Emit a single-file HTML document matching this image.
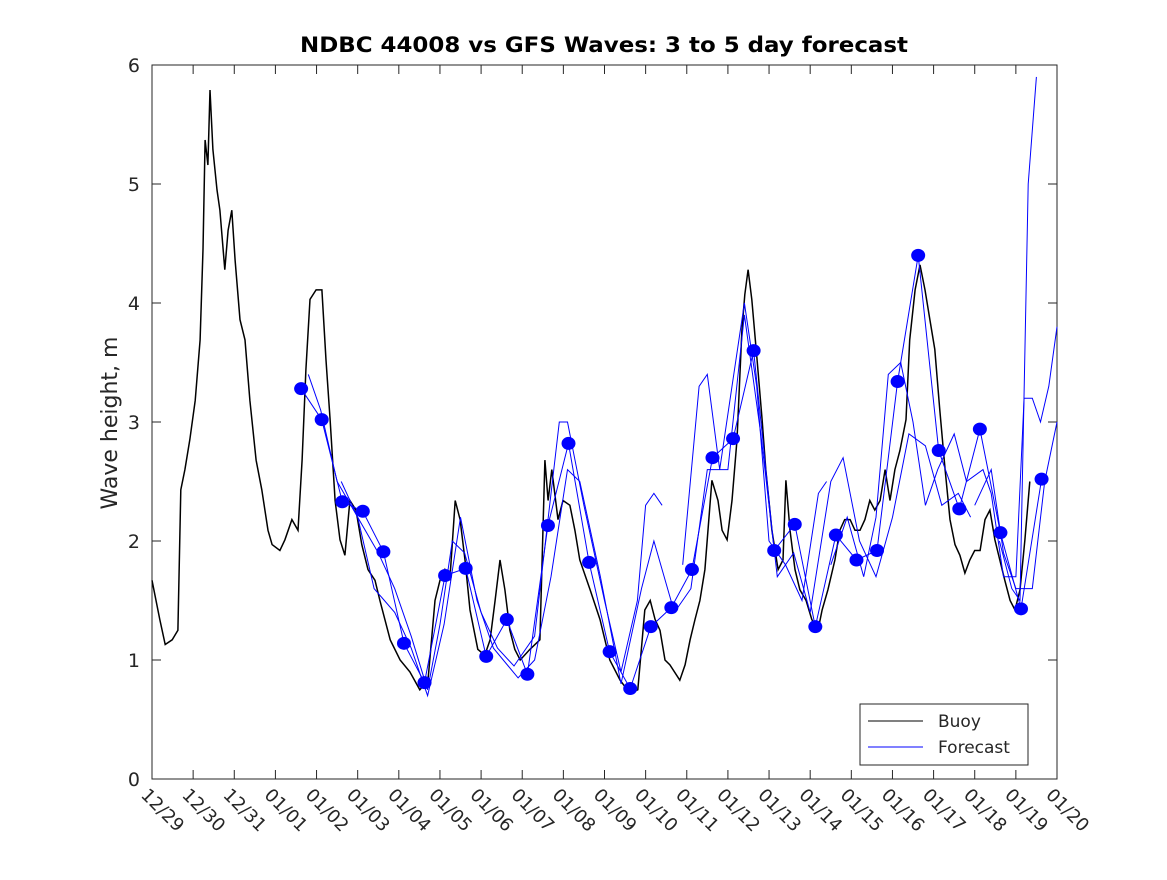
<!DOCTYPE html>
<html><head><meta charset="utf-8"><style>
body{margin:0;background:#fff;}
svg text{font-family:"DejaVu Sans","Liberation Sans",sans-serif;fill:#262626;}
</style></head><body>
<svg id="chart" width="1167" height="875" xmlns="http://www.w3.org/2000/svg">
<rect width="1167" height="875" fill="#fff"/>
<text x="604" y="52" text-anchor="middle" font-size="21.5" font-weight="bold" textLength="608" lengthAdjust="spacingAndGlyphs" style="fill:#000">NDBC 44008 vs GFS Waves: 3 to 5 day forecast</text>
<text transform="translate(117,423) rotate(-90)" text-anchor="middle" font-size="22">Wave height, m</text>
<g id="axes"></g>
<g id="marks"></g>
<g>
<rect x="860" y="704" width="168" height="61" fill="#fff" stroke="#262626" stroke-width="1"/>
<line x1="868" y1="721" x2="923" y2="721" stroke="#000" stroke-width="1"/>
<text x="938" y="727" font-size="17">Buoy</text>
<line x1="868" y1="747" x2="923" y2="747" stroke="#00f" stroke-width="1"/>
<text x="938" y="753" font-size="17">Forecast</text>
</g>
</svg>
<script>
const xTickLabels=["12/29","12/30","12/31","01/01","01/02","01/03","01/04","01/05","01/06","01/07","01/08","01/09","01/10","01/11","01/12","01/13","01/14","01/15","01/16","01/17","01/18","01/19","01/20"];
const yTicks=[0,1,2,3,4,5,6];
const buoyDays=[0,0.19,0.32,0.49,0.63,0.70,0.80,0.92,1.05,1.17,1.24,1.29,1.36,1.41,1.48,1.58,1.65,1.77,1.85,1.94,2.02,2.14,2.26,2.38,2.53,2.67,2.82,2.92,3.11,3.23,3.40,3.55,3.65,3.74,3.84,3.99,4.13,4.23,4.33,4.45,4.57,4.69,4.81,4.96,5.10,5.25,5.42,5.54,5.79,6.03,6.27,6.51,6.71,6.88,7.00,7.12,7.24,7.37,7.49,7.61,7.73,7.92,8.09,8.22,8.34,8.46,8.58,8.70,8.82,8.95,9.19,9.43,9.55,9.63,9.72,9.87,9.99,10.16,10.28,10.40,10.65,10.89,11.13,11.38,11.62,11.81,11.98,12.11,12.23,12.35,12.47,12.59,12.83,12.96,13.08,13.20,13.32,13.44,13.61,13.76,13.86,13.98,14.10,14.22,14.34,14.41,14.49,14.58,14.71,14.83,14.92,15.07,15.22,15.34,15.41,15.51,15.63,15.75,15.90,16.04,16.19,16.29,16.43,16.60,16.72,16.84,16.97,17.09,17.21,17.33,17.45,17.57,17.70,17.82,17.94,18.06,18.18,18.33,18.42,18.55,18.67,18.79,18.91,19.03,19.15,19.28,19.40,19.52,19.64,19.76,19.88,20.00,20.13,20.25,20.37,20.49,20.61,20.73,20.86,20.98,21.10,21.22,21.34];
const buoyVals=[1.67,1.34,1.13,1.17,1.25,2.43,2.60,2.85,3.18,3.69,4.45,5.37,5.16,5.79,5.29,4.95,4.78,4.28,4.61,4.78,4.36,3.86,3.69,3.18,2.68,2.43,2.09,1.97,1.92,2.01,2.18,2.09,2.68,3.44,4.03,4.11,4.11,3.52,3.02,2.34,2.01,1.88,2.34,2.26,1.97,1.76,1.67,1.50,1.17,1.00,0.90,0.75,0.83,1.50,1.67,1.76,1.67,2.34,2.18,1.84,1.42,1.09,1.04,1.17,1.50,1.84,1.59,1.25,1.09,1.00,1.09,1.17,2.68,2.34,2.60,2.18,2.34,2.30,2.09,1.84,1.59,1.34,1.00,0.83,0.72,0.75,1.42,1.50,1.34,1.25,1.00,0.96,0.83,0.96,1.17,1.34,1.50,1.76,2.51,2.34,2.09,2.01,2.34,2.85,3.77,4.07,4.28,4.03,3.52,3.02,2.60,2.09,1.76,1.84,2.51,2.09,1.76,1.59,1.50,1.34,1.25,1.42,1.59,1.84,2.09,2.18,2.18,2.09,2.09,2.18,2.34,2.26,2.34,2.60,2.34,2.60,2.76,3.02,3.69,4.11,4.32,4.11,3.86,3.61,3.10,2.60,2.18,1.97,1.88,1.73,1.84,1.92,1.92,2.18,2.26,2.01,1.84,1.67,1.50,1.42,1.59,2.01,2.50];
const dotStart=3.625, dotStep=0.5;
const dotVals=[3.28,3.02,2.33,2.25,1.91,1.14,0.81,1.71,1.77,1.03,1.34,0.88,2.13,2.82,1.82,1.07,0.76,1.28,1.44,1.76,2.70,2.86,3.60,1.92,2.14,1.28,2.05,1.84,1.92,3.34,4.40,2.76,2.27,2.94,2.07,1.43,2.52];
const f2Days=[3.8,4.1,4.5,5.0,5.5,5.9,6.3,6.7,7.0,7.3,7.6,8.0,8.4,8.8,9.3,9.6,9.9,10.1,10.5,11.0,11.4,11.8,12.0,12.2,12.4,12.5,12.9,13.3,13.5,13.8,14.1,14.4,14.7,15.0,15.4,15.8,16.2,16.4,16.45,16.5,16.9,17.3,17.6,17.9,18.2,18.5,18.8,19.1,19.5,19.8,20.2,20.4,20.7,21.0,21.2,21.4,21.6,21.8,22.0];
const f2Vals=[3.4,3.1,2.5,2.2,1.9,1.6,1.2,0.75,1.3,2.0,1.9,1.4,1.1,0.95,1.2,2.1,3.0,3.0,2.3,1.5,0.9,1.5,2.3,2.4,2.3,null,1.8,3.3,3.4,2.6,3.3,4.0,3.3,2.0,1.8,1.5,2.4,2.5,null,1.8,2.2,1.7,2.2,3.4,3.5,3.0,2.3,2.6,2.9,2.5,2.6,2.4,1.7,1.7,3.2,3.2,3.0,3.3,3.8];
const f3Days=[4.6,5.0,5.4,5.9,6.3,6.7,7.1,7.5,7.9,8.3,8.9,9.3,9.7,10.1,10.4,10.9,11.4,11.9,12.2,12.7,13.1,13.5,14.0,14.4,14.8,15.2,15.6,16.0,16.5,16.8,17.2,17.6,18.0,18.4,18.8,19.2,19.6,19.9,19.95,20.0,20.4,20.7,21.0,21.4,21.7,22.0];
const f3Vals=[2.5,2.2,1.6,1.4,1.1,0.7,1.3,2.2,1.5,1.1,0.85,1.0,1.7,2.6,2.5,1.7,0.8,1.6,2.0,1.4,1.6,2.6,2.6,3.9,2.9,1.7,1.9,1.4,2.5,2.7,2.0,1.7,2.2,2.9,2.8,2.3,2.4,2.2,null,2.3,2.6,1.9,1.6,1.6,2.5,3.0];
const f4Days=[20.6,20.9,21.1,21.3,21.5];
const f4Vals=[2.0,1.6,1.5,5.0,5.9];

const X0=152,X1=1057,Y0=779,Y1=65,DAYS=22,YMAX=6;
const xs=d=>X0+(X1-X0)*d/DAYS;
const ys=v=>Y0-(Y0-Y1)*v/YMAX;
const NS="http://www.w3.org/2000/svg";
const axes=document.getElementById('axes'),marks=document.getElementById('marks');
function mk(tag,attrs,parent){const e=document.createElementNS(NS,tag);for(const k in attrs)e.setAttribute(k,attrs[k]);parent.appendChild(e);return e;}
let f=mk('rect',{x:X0,y:Y1,width:X1-X0,height:Y0-Y1,fill:'none',stroke:'#262626','stroke-width':1},axes);


xTickLabels.forEach((lab,i)=>{const x=xs(i);
 mk('line',{x1:x,y1:Y0,x2:x,y2:Y0-9,stroke:'#262626'},axes);
 mk('line',{x1:x,y1:Y1,x2:x,y2:Y1+9,stroke:'#262626'},axes);
 const t=mk('text',{transform:`translate(${x-12},${Y0+17}) rotate(45)`,'font-size':18},axes);
 t.textContent=lab;
 
 
});
yTicks.forEach(v=>{const y=ys(v);
 mk('line',{x1:X0,y1:y,x2:X0+9,y2:y,stroke:'#262626'},axes);
 mk('line',{x1:X1,y1:y,x2:X1-9,y2:y,stroke:'#262626'},axes);
 const t=mk('text',{x:X0-12,y:y+7,'text-anchor':'end','font-size':19},axes);
 t.textContent=v;
 
 
});
function pathFrom(days,vals){let d='',pen=false;days.forEach((dd,i)=>{const v=vals[i];if(v===null){pen=false;return;}d+=(pen?'L':'M')+xs(dd).toFixed(1)+' '+ys(v).toFixed(1)+' ';pen=true;});return d;}
const b=mk('path',{d:pathFrom(buoyDays,buoyVals),fill:'none',stroke:'#000','stroke-width':1.5,'stroke-linejoin':'miter'},marks);


const dotDays=dotVals.map((v,i)=>dotStart+dotStep*i);
[[dotDays,dotVals,'forecast-line-1'],[f2Days,f2Vals,'forecast-line-2'],[f3Days,f3Vals,'forecast-line-3'],[f4Days,f4Vals,'forecast-line-4']].forEach(s=>{
 const p=mk('path',{d:pathFrom(s[0],s[1]),fill:'none',stroke:'#00f','stroke-width':1},marks);
 
 
});
dotVals.forEach((v,i)=>{
 const c=mk('ellipse',{cx:xs(dotDays[i]),cy:ys(v),rx:7,ry:6.5,fill:'#00f'},marks);
 
 
});
</script>
</body></html>
